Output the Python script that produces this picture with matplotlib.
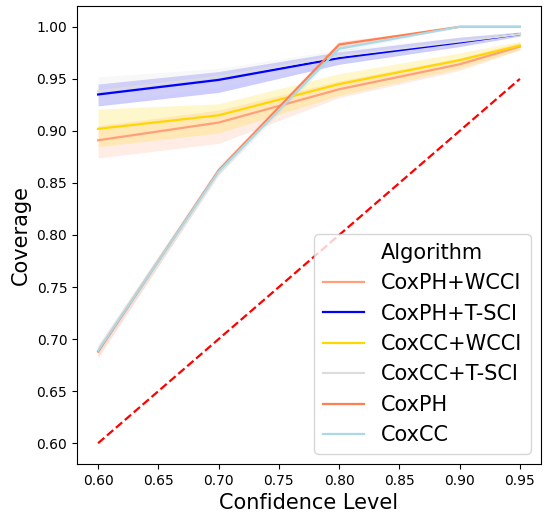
import matplotlib
matplotlib.use("Agg")
import matplotlib.pyplot as plt
from matplotlib.lines import Line2D

conf = [0.60, 0.70, 0.80, 0.90, 0.95]

names = ["CoxPH+WCCI", "CoxPH+T-SCI", "CoxCC+WCCI", "CoxCC+T-SCI", "CoxPH", "CoxCC"]
colors = ["#FFA07A", "#0000FF", "#FFD700", "#DCDCDC", "#FF7F50", "#ADD8E6"]

cph_wcci = [0.891, 0.908, 0.940, 0.964, 0.981]
cph_wcci_lo = [0.874, 0.888, 0.932, 0.958, 0.978]
cph_wcci_hi = [0.905, 0.920, 0.948, 0.970, 0.985]

cph_tsci = [0.935, 0.949, 0.970, 0.985, 0.993]
cph_tsci_lo = [0.924, 0.937, 0.964, 0.981, 0.991]
cph_tsci_hi = [0.945, 0.957, 0.976, 0.990, 0.995]

ccc_wcci = [0.902, 0.915, 0.945, 0.968, 0.982]
ccc_wcci_lo = [0.885, 0.898, 0.934, 0.960, 0.978]
ccc_wcci_hi = [0.921, 0.926, 0.955, 0.975, 0.986]

ccc_tsci = [0.938, 0.952, 0.972, 0.986, 0.993]
ccc_tsci_lo = [0.926, 0.942, 0.966, 0.982, 0.991]
ccc_tsci_hi = [0.952, 0.960, 0.978, 0.990, 0.995]

cph = [0.688, 0.862, 0.983, 1.000, 1.000]
cph_lo = [0.682, 0.858, 0.980, 1.000, 1.000]
cph_hi = [0.694, 0.866, 0.986, 1.000, 1.000]

ccc = [0.689, 0.861, 0.979, 1.000, 1.000]
ccc_lo = [0.684, 0.857, 0.976, 1.000, 1.000]
ccc_hi = [0.694, 0.865, 0.982, 1.000, 1.000]

series = [
    (cph_wcci, cph_wcci_lo, cph_wcci_hi),
    (cph_tsci, cph_tsci_lo, cph_tsci_hi),
    (ccc_wcci, ccc_wcci_lo, ccc_wcci_hi),
    (ccc_tsci, ccc_tsci_lo, ccc_tsci_hi),
    (cph, cph_lo, cph_hi),
    (ccc, ccc_lo, ccc_hi),
]

fig = plt.figure(figsize=(5.44, 5.17), dpi=100)
ax = fig.add_axes([77/544, 1 - 464/517, (541-77)/544, (464-6)/517])

handles = [Line2D([], [], color="none", label="Algorithm")]
for name, col, (m, lo, hi) in zip(names, colors, series):
    ax.fill_between(conf, lo, hi, color=col, alpha=0.2, linewidth=0)
    ln, = ax.plot(conf, m, color=col, lw=1.6, label=name)
    handles.append(ln)

ax.plot(conf, conf, color="red", linestyle="--", lw=1.6)

ax.set_xlim(0.5825, 0.9675)
ax.set_ylim(0.58, 1.02)
ax.set_xticks([0.60, 0.65, 0.70, 0.75, 0.80, 0.85, 0.90, 0.95])
ax.set_yticks([0.60, 0.65, 0.70, 0.75, 0.80, 0.85, 0.90, 0.95, 1.00])
ax.tick_params(labelsize=10)
ax.set_xlabel("Confidence Level", fontsize=15)
ax.set_ylabel("Coverage", fontsize=15)

ax.legend(handles=handles, loc="lower right", fontsize=15, handlelength=2.0)

fig.savefig("out.png", dpi=100)
